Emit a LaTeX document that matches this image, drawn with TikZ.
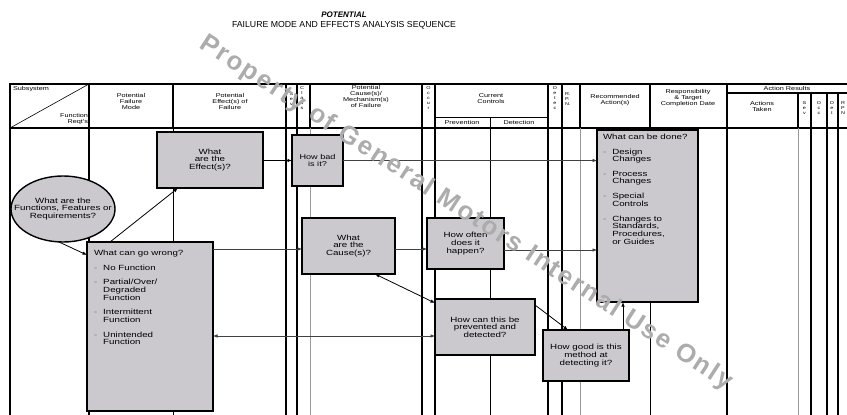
\documentclass[tikz,border=0pt]{standalone}
\usepackage{fontspec}
\usepackage{graphicx}
\setmainfont{Liberation Sans}
\newfontfamily\widefont{Liberation Sans}[FakeStretch=1.3]
\newfontfamily\markfont{Liberation Sans}[LetterSpace=8]
\usetikzlibrary{arrows.meta,shapes.geometric,calc}
\definecolor{boxfill}{RGB}{203,201,206}
\definecolor{markgray}{RGB}{172,172,172}

\begin{document}
\begin{tikzpicture}[x=1pt,y=-1pt,
  every node/.style={inner sep=0pt, outer sep=0pt},
  frame/.style={line width=1.5pt},
  rule/.style={line width=1.1pt},
  thinrule/.style={line width=0.6pt},
  grayrule/.style={line width=0.9pt, black!40},
  hdr/.style={font=\widefont\fontsize{5.6}{6}\selectfont, align=center},
  vlab/.style={font=\widefont\fontsize{4.2}{5}\selectfont, align=center},
  qbox/.style={draw, line width=1.5pt, fill=boxfill,
    font=\widefont\fontsize{7.5}{7.6}\selectfont, align=center},
  qtext/.style={font=\widefont\fontsize{7.5}{7.6}\selectfont, align=center},
  listtxt/.style={font=\widefont\fontsize{7.5}{7.5}\selectfont},
  tip/.style={-{Latex[length=4.5pt,width=3.5pt]}},
  arr/.style={line width=0.8pt, tip},
  flow/.style={line width=0.6pt, black!75, tip},
  darr/.style={line width=0.8pt, {Latex[length=4.5pt,width=3.5pt]}-{Latex[length=4.5pt,width=3.5pt]}},
]
\newcommand{\dash}{\textcolor{black!55}{-}}

\useasboundingbox (0,0) rectangle (847,415);
\fill[white] (0,0) rectangle (847,415);

% ---------- title ----------
\node[font=\bfseries\itshape\fontsize{8}{8}\selectfont] (ttl1) at (344,15) {POTENTIAL};
\node (ttl2) at (344,25) {\resizebox{224pt}{!}{FAILURE MODE AND EFFECTS ANALYSIS SEQUENCE}};

% ---------- form grid ----------
\draw[frame] (10,415) -- (10,84) -- (847,84);
\draw[frame] (10,128) -- (847,128);
\draw[thinrule] (10,128) -- (89,84);
% header column rules
\foreach \cx in {89,173,286,297,310,422,435,548,562,580,650,727}
  \draw[rule] (\cx,84) -- (\cx,128);
\draw[rule] (727,93) -- (847,93);
\foreach \cx in {798,811,827,838}
  \draw[rule] (\cx,93) -- (\cx,128);
\draw[thinrule] (435,117) -- (548,117);
\draw[thinrule] (490,117) -- (490,128);
% body column rules
\foreach \cx in {89,286,297,422,435,548,562,727,811,827,838}
  \draw[rule] (\cx,128) -- (\cx,415);
\foreach \cx in {173,490,650}
  \draw[thinrule] (\cx,128) -- (\cx,415);
\foreach \cx in {310,580,798}
  \draw[grayrule] (\cx,128) -- (\cx,415);

% ---------- header labels ----------
\node[hdr, anchor=north west] (hsub) at (13,86) {Subsystem};
\node[hdr, anchor=south east, align=right] (hfun) at (88,125) {Function\\Reqt's};
\node[hdr] (hmode) at (131,101) {Potential\\Failure\\Mode};
\node[hdr] (heff) at (230,101) {Potential\\Effect(s) of\\Failure};
\node[vlab] (hsev) at (291.5,99) {S\\e\\v};
\node[vlab] (hcls) at (302,98) {C\\l\\a\\s\\s};
\node[hdr] (hcause) at (366,96) {Potential\\Cause(s)/\\Mechanism(s)\\of Failure};
\node[vlab] (hocc) at (428.5,98) {O\\c\\c\\u\\r};
\node[hdr] (hctl) at (491,99) {Current\\Controls};
\node[hdr] (hprev) at (462,122.5) {Prevention};
\node[hdr] (hdet) at (519,122.5) {Detection};
\node[vlab] (hdetec) at (555,98) {D\\e\\t\\e\\c};
\node[vlab, anchor=west, align=left] (hrpn) at (565,99) {R.\\P.\\N.};
\node[hdr] (hrec) at (615,100.5) {Recommended\\Action(s)};
\node[hdr] (hresp) at (688,98) {Responsibility\\\&~Target\\Completion Date};
\node[hdr] (hres) at (787,88.5) {Action Results};
\node[hdr] (htaken) at (762,106.5) {Actions\\Taken};
\node[vlab] (hsev2) at (804.5,108) {S\\e\\v};
\node[vlab] (hocc2) at (819,108) {O\\c\\c};
\node[vlab] (hdet2) at (832,108) {D\\e\\t};
\node[vlab, anchor=west, align=left] (hrpn2) at (841,108) {R\\P\\N};

% ---------- question boxes ----------
\node[draw, ellipse, line width=1.4pt, fill=boxfill,
      minimum width=104pt, minimum height=66pt] (func) at (63,209) {};
\node[qtext] (functxt) at (func.center) {What are the\\Functions, Features or\\Requirements?};

\node[qbox, minimum width=106pt, minimum height=56pt] (effects) at (210,160) {What\\are the\\Effect(s)?};
\node[qbox, minimum width=51pt, minimum height=51pt,
      font=\widefont\fontsize{7}{7}\selectfont] (howbad) at (317.5,160.5) {How bad\\is it?};
\node[qbox, minimum width=93pt, minimum height=56pt] (causes) at (348.5,246) {What\\are the\\Cause(s)?};
\node[qbox, minimum width=77pt, minimum height=51pt] (often) at (465.5,243.5) {How often\\does it\\happen?};
\node[qbox, minimum width=100pt, minimum height=56pt] (prevent) at (485,327) {How can this be\\prevented and\\detected?};
\node[qbox, minimum width=86pt, minimum height=51pt] (good) at (586,355.5) {How good is this\\method at\\detecting it?};

\node[qbox, minimum width=126pt, minimum height=169pt] (wrong) at (150,326.5) {};
\node[listtxt, anchor=north west] (wronglist) at ($(wrong.north west)+(7,8)$) {%
  \begin{tabular}{@{}l@{\hspace{6pt}}l@{}}
  \multicolumn{2}{@{}l@{}}{What can go wrong?}\\[7pt]
  \dash & No Function\\[7pt]
  \dash & Partial/Over/\\
        & Degraded\\
        & Function\\[7pt]
  \dash & Intermittent\\
        & Function\\[7pt]
  \dash & Unintended\\
        & Function
  \end{tabular}};

\node[qbox, minimum width=101pt, minimum height=172pt] (done) at (647.5,216) {};
\node[listtxt, anchor=north west] (donelist) at ($(done.north west)+(6,4)$) {%
  \begin{tabular}{@{}l@{\hspace{6pt}}l@{}}
  \multicolumn{2}{@{}l@{}}{What can be done?}\\[7pt]
  \dash & Design\\
        & Changes\\[7pt]
  \dash & Process\\
        & Changes\\[7pt]
  \dash & Special\\
        & Controls\\[7pt]
  \dash & Changes to\\
        & Standards,\\
        & Procedures,\\
        & or Guides
  \end{tabular}};

% ---------- connectors ----------
\coordinate (rowA) at (0,160.5);
\coordinate (rowB) at (0,249);
\coordinate (rowB2) at (0,250);
\coordinate (rowC) at (0,336);
\coordinate (upx) at (623,0);

\draw[arr] ($(func.south)+(-4,0)$) -- ($(wrong.north west)+(0,13)$);
\draw[arr] ($(wrong.north west)+(23,0)$) -- ($(effects.south west)+(21,0)$);
\draw[arr] (effects.east |- rowA) -- (howbad.west |- rowA);
\draw[flow] (howbad.east |- rowA) -- (done.west |- rowA);
\draw[flow] (wrong.east |- rowB) -- (causes.west |- rowB);
\draw[flow] (causes.east |- rowB) -- (often.west |- rowB);
\draw[flow] (often.east |- rowB2) -- (done.west |- rowB2);
\draw[darr] ($(causes.south west)+(73,0)$) -- ($(prevent.north west)+(0,4)$);
\draw[darr, line width=0.6pt, black!75] (wrong.east |- rowC) -- (prevent.west |- rowC);
\draw[arr] ($(prevent.north east)+(0,6)$) -- ($(good.north west)+(25,0)$);
\draw[arr] (good.north -| upx) -- (done.south -| upx);

% ---------- watermark ----------
\node[rotate=-33, text=markgray] (mark) at (466,213)
  {\resizebox{630pt}{!}{\markfont\bfseries Property of General Motors Internal Use Only}};
\end{tikzpicture}
\end{document}
